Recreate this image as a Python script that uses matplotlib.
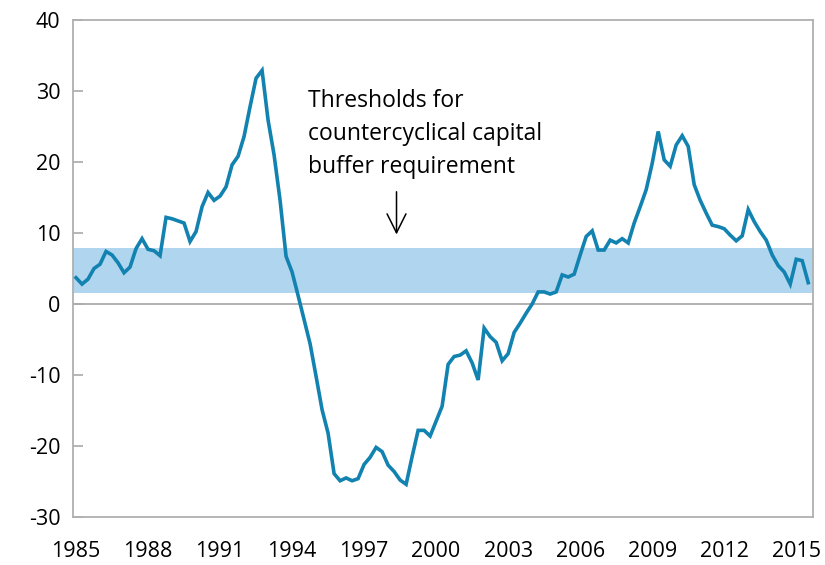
import matplotlib.pyplot as plt
import numpy as np

plt.rcParams['font.family'] = ['Open Sans', 'DejaVu Sans']
plt.rcParams['axes.unicode_minus'] = False

# quarterly series, 1985Q1 .. 2015Q3
start_year = 1985
values = [
    3.7, 2.8, 3.5, 5.0, 5.6, 7.4, 6.9, 5.8,          # 1985-1986
    4.4, 5.2, 7.8, 9.2, 7.7, 7.5, 6.8, 12.2,         # 1987-1988
    12.0, 11.7, 11.4, 8.8, 10.2, 13.7, 15.7, 14.6,   # 1989-1990
    15.2, 16.5, 19.6, 20.8, 23.6, 27.8, 31.8, 32.9,  # 1991-1992
    25.9, 21.0, 14.6, 6.7, 4.5, 1.2, -2.2, -5.6,     # 1993-1994
    -10.2, -14.9, -18.2, -23.9, -24.9, -24.5, -24.9, -24.6,  # 1995-1996
    -22.6, -21.6, -20.2, -20.8, -22.7, -23.6, -24.8, -25.4,  # 1997-1998
    -21.5, -17.8, -17.8, -18.6, -16.5, -14.4, -8.5, -7.4,    # 1999-2000
    -7.2, -6.6, -8.3, -10.7, -3.4, -4.6, -5.4, -8.0,         # 2001-2002
    -7.0, -4.0, -2.7, -1.3, 0.0, 1.7, 1.7, 1.4,              # 2003-2004
    1.7, 4.1, 3.8, 4.2, 6.9, 9.5, 10.3, 7.6,                 # 2005-2006
    7.6, 9.0, 8.6, 9.2, 8.6, 11.4, 13.7, 16.1,               # 2007-2008
    19.8, 24.3, 20.3, 19.4, 22.4, 23.7, 22.2, 16.8,          # 2009-2010
    14.6, 12.8, 11.1, 10.9, 10.6, 9.7, 8.9, 9.6,             # 2011-2012
    13.3, 11.6, 10.2, 9.0, 6.9, 5.4, 4.5, 2.8,               # 2013-2014
    6.3, 6.1, 3.0,                                           # 2015
]
band_low, band_high = 1.5, 7.9
year_ticks = [1985, 1988, 1991, 1994, 1997, 2000, 2003, 2006, 2009, 2012, 2015]
y_ticks = [-30, -20, -10, 0, 10, 20, 30, 40]

t = start_year + np.arange(len(values)) / 4

fig = plt.figure(figsize=(8.25, 5.65), dpi=100)
ax = fig.add_axes([0.0885, 0.085, 0.897, 0.8796])

xmin, xmax = t[0] - 0.125, t[-1] + 0.2
ax.axhspan(band_low, band_high, color='#b0d6ef', zorder=1, lw=0)
ax.axhline(0, color='#ababab', lw=1.3, zorder=2)
ax.plot(t, values, color='#1282b0', lw=2.6, zorder=3, solid_joinstyle='miter')

ax.set_xlim(xmin, xmax)
ax.set_ylim(-30, 40)
ax.set_yticks(y_ticks)
ax.set_yticklabels([str(v) for v in y_ticks])
ax.set_xticks(year_ticks)
ax.set_xticklabels([str(y) for y in year_ticks])

for s in ax.spines.values():
    s.set_color('#b0b0b0')
    s.set_linewidth(1.3)
ax.tick_params(axis='y', direction='in', length=7, color='#b0b0b0', width=1.3,
               labelsize=15.5, pad=9)
ax.tick_params(axis='x', length=0, labelsize=15.5, pad=17)

ax.text(1994.65, 24.0, 'Thresholds for\ncountercyclical capital\nbuffer requirement',
        fontsize=16.5, va='center', ha='left', linespacing=1.5)
ax.annotate('', xy=(1998.35, 9.4), xytext=(1998.35, 16.2),
            arrowprops=dict(arrowstyle='->', color='black', lw=1.1,
                            mutation_scale=34))

fig.savefig('out.png', dpi=100)
